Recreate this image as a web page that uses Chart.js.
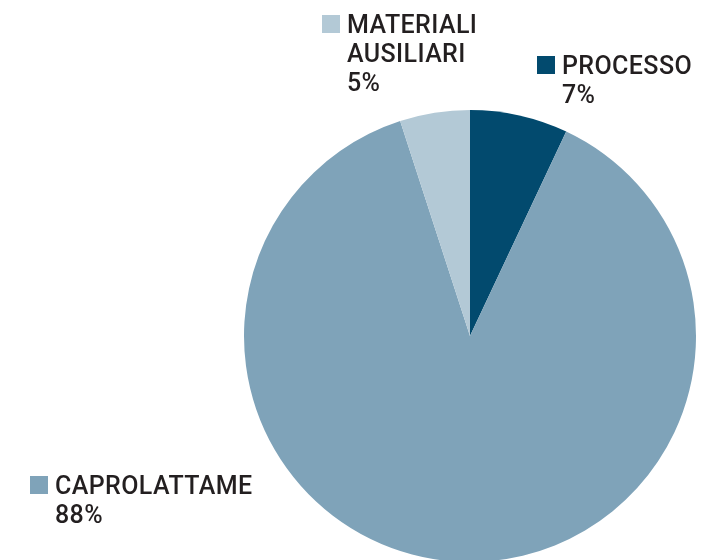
<!DOCTYPE html>
<html>
<head>
<meta charset="utf-8">
<script src="https://cdn.jsdelivr.net/npm/chart.js@4"></script>
<style>
    html, body { margin: 0; padding: 0; background: #fff; overflow: hidden; }
    #wrap { position: relative; width: 713px; height: 620px; }
</style>
</head>
<body>
<div id="wrap"><canvas id="costChart" width="713" height="620"></canvas></div>
<script>
// Composizione dei costi
const categories = ['PROCESSO', 'CAPROLATTAME', 'MATERIALI AUSILIARI'];
const shares = [7, 88, 5];
const colors = ['#024a6e', '#7fa3b9', '#b3c9d6'];

// Etichette: righe di testo, posizione del quadratino
const labelLines = [['PROCESSO'], ['CAPROLATTAME'], ['MATERIALI', 'AUSILIARI']];
const labelPos = [
    { x: 537, y: 56 },
    { x: 30, y: 476 },
    { x: 322, y: 15 }
];

const labelsPlugin = {
    id: 'sliceLabels',
    afterDraw(chart) {
        const ctx = chart.ctx;
        ctx.save();
        ctx.font = '500 25px Roboto';
        ctx.letterSpacing = '0.4px';
        ctx.textBaseline = 'alphabetic';
        categories.forEach((cat, i) => {
            const p = labelPos[i];
            ctx.fillStyle = colors[i];
            ctx.fillRect(p.x, p.y, 18, 18);
            ctx.fillStyle = '#231f20';
            const lines = labelLines[i].concat([shares[i] + '%']);
            lines.forEach((line, j) => {
                ctx.fillText(line, p.x + 25, p.y + 18 + j * 29);
            });
        });
        ctx.restore();
    }
};

new Chart(document.getElementById('costChart'), {
    type: 'pie',
    data: {
        labels: categories,
        datasets: [{
            data: shares,
            backgroundColor: colors,
            borderWidth: 0
        }]
    },
    options: {
        responsive: false,
        animation: false,
        layout: { padding: { left: 244, right: 17, top: 110, bottom: 58 } },
        plugins: {
            legend: { display: false },
            tooltip: { enabled: false }
        }
    },
    plugins: [labelsPlugin]
});
</script>
</body>
</html>
